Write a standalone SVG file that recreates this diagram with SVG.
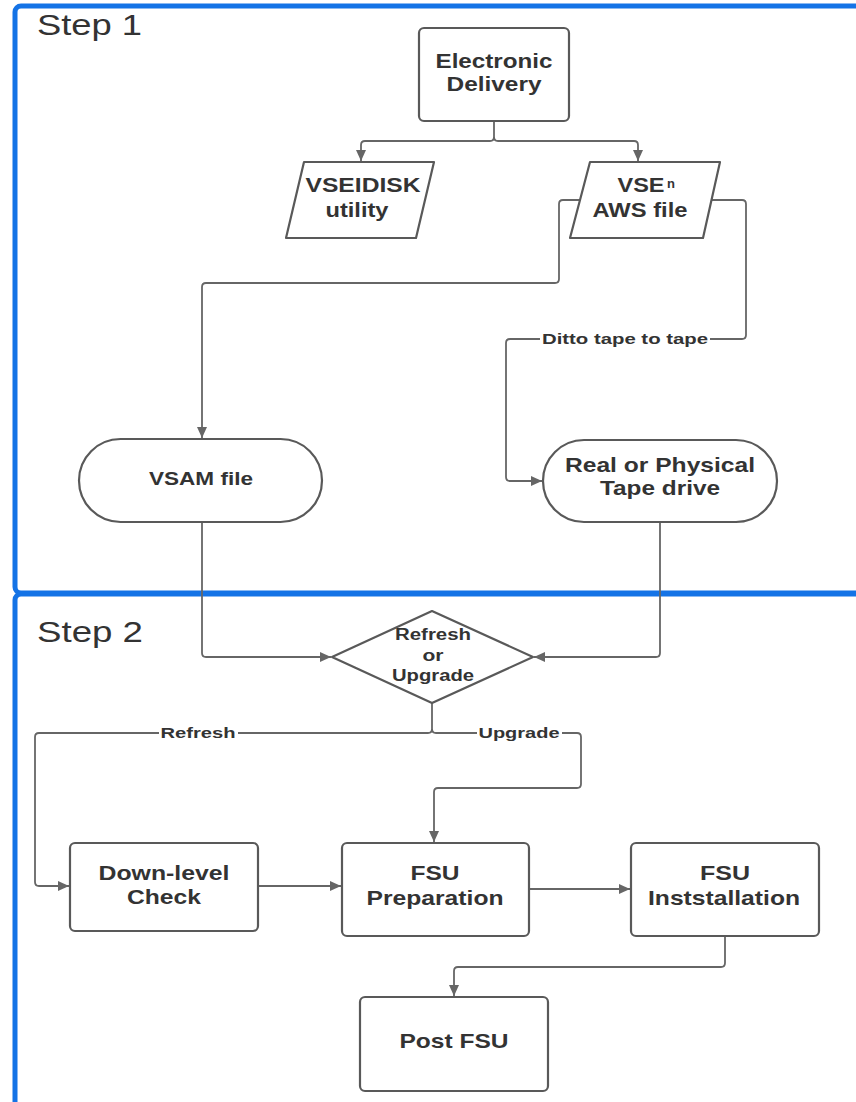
<svg xmlns="http://www.w3.org/2000/svg" width="856" height="1102" viewBox="0 0 856 1102">
<defs>
<style>
.lane{fill:none;stroke:#1473e6;stroke-width:5}
.step{font-family:"Liberation Sans",Arial,sans-serif;font-size:30px;fill:#333}
.shape{fill:#fff;stroke:#595959;stroke-width:2.2;stroke-linejoin:round}
.t{font-family:"Liberation Sans",Arial,sans-serif;font-weight:bold;font-size:21px;fill:#333;text-anchor:middle}
.ts{font-size:18px}
.td{font-size:16px}
.lbl{font-family:"Liberation Sans",Arial,sans-serif;font-weight:bold;font-size:15px;fill:#333;text-anchor:middle}
.conn{fill:none;stroke:#666;stroke-width:1.8;marker-end:url(#arr)}
.bg{fill:#fff}
</style>
<marker id="arr" markerUnits="userSpaceOnUse" markerWidth="12" markerHeight="10" refX="11" refY="5" orient="auto">
<path d="M0,0 L11,5 L0,10 z" fill="#666"/>
</marker>
</defs>
<rect width="856" height="1102" fill="#fff"/>

<g id="lanes">
<rect class="lane" x="15" y="6" width="900" height="587" rx="6"/>
<rect class="lane" x="15" y="594" width="900" height="620" rx="6"/>
<text class="step" x="37" y="35" textLength="105" lengthAdjust="spacingAndGlyphs">Step 1</text>
<text class="step" x="37" y="642" textLength="106" lengthAdjust="spacingAndGlyphs">Step 2</text>
</g>

<g id="connectors">
<path class="conn" d="M494,121 V137 Q494,141 490,141 H365 Q361,141 361,145 V161"/>
<path class="conn" d="M494,137 Q494,141 498,141 H634 Q638,141 638,145 V161"/>
<path class="conn" d="M580,200 H563 Q559,200 559,204 V279 Q559,283 555,283 H206 Q202,283 202,287 V438"/>
<path class="conn" d="M711,200 H742 Q746,200 746,204 V335 Q746,339 742,339 H510 Q506,339 506,343 V477 Q506,481 510,481 H542"/>
<path class="conn" d="M202,522 V653 Q202,657 206,657 H331"/>
<path class="conn" d="M660,522 V653 Q660,657 656,657 H534"/>
<path class="conn" d="M432,703 V729 Q432,733 428,733 H39 Q35,733 35,737 V882 Q35,886 39,886 H69"/>
<path class="conn" d="M432,729 Q432,733 436,733 H577 Q581,733 581,737 V784 Q581,788 577,788 H438 Q434,788 434,792 V842"/>
<path class="conn" d="M258,886 H341"/>
<path class="conn" d="M529,889 H630"/>
<path class="conn" d="M725,936 V963 Q725,967 721,967 H458 Q454,967 454,971 V996"/>
<rect class="bg" x="540" y="330" width="170" height="18"/>
<text class="lbl" x="625" y="344" textLength="166" lengthAdjust="spacingAndGlyphs">Ditto tape to tape</text>
<rect class="bg" x="159" y="724" width="79" height="18"/>
<text class="lbl" x="198" y="738" textLength="75" lengthAdjust="spacingAndGlyphs">Refresh</text>
<rect class="bg" x="477" y="724" width="85" height="18"/>
<text class="lbl" x="519" y="738" textLength="81" lengthAdjust="spacingAndGlyphs">Upgrade</text>
</g>

<g id="electronic-delivery">
<rect class="shape" x="419" y="28" width="150" height="93" rx="5"/>
<text class="t" x="494" y="68" textLength="117" lengthAdjust="spacingAndGlyphs">Electronic</text>
<text class="t" x="494" y="91" textLength="95" lengthAdjust="spacingAndGlyphs">Delivery</text>
</g>

<g id="vseidisk-utility">
<polygon class="shape" points="304,162 434,162 416,238 286,238"/>
<text class="t" x="363" y="192" textLength="115" lengthAdjust="spacingAndGlyphs">VSEIDISK</text>
<text class="t" x="357" y="217" textLength="63" lengthAdjust="spacingAndGlyphs">utility</text>
</g>

<g id="vse-aws-file">
<polygon class="shape" points="590,162 720,162 703,238 570,238"/>
<text class="t" x="641" y="192" textLength="47" lengthAdjust="spacingAndGlyphs">VSE</text>
<text class="t" x="671" y="188" style="font-size:13px">n</text>
<text class="t" x="640" y="217" textLength="95" lengthAdjust="spacingAndGlyphs">AWS file</text>
</g>

<g id="vsam-file">
<rect class="shape" x="79" y="439" width="243" height="83" rx="41.5"/>
<text class="t ts" x="201" y="485" textLength="104" lengthAdjust="spacingAndGlyphs">VSAM file</text>
</g>

<g id="tape-drive">
<rect class="shape" x="543" y="440" width="234" height="82" rx="41"/>
<text class="t" x="660" y="472" textLength="190" lengthAdjust="spacingAndGlyphs">Real or Physical</text>
<text class="t" x="660" y="495" textLength="120" lengthAdjust="spacingAndGlyphs">Tape drive</text>
</g>

<g id="refresh-or-upgrade">
<polygon class="shape" points="432,611 533,657 432,703 332,657"/>
<text class="t td" x="433" y="640" textLength="76" lengthAdjust="spacingAndGlyphs">Refresh</text>
<text class="t td" x="433" y="661" textLength="21" lengthAdjust="spacingAndGlyphs">or</text>
<text class="t td" x="433" y="681" textLength="82" lengthAdjust="spacingAndGlyphs">Upgrade</text>
</g>

<g id="down-level-check">
<rect class="shape" x="70" y="843" width="188" height="88" rx="5"/>
<text class="t" x="164" y="880" textLength="131" lengthAdjust="spacingAndGlyphs">Down-level</text>
<text class="t" x="164" y="904" textLength="74" lengthAdjust="spacingAndGlyphs">Check</text>
</g>

<g id="fsu-preparation">
<rect class="shape" x="342" y="843" width="187" height="93" rx="5"/>
<text class="t" x="435" y="880" textLength="49" lengthAdjust="spacingAndGlyphs">FSU</text>
<text class="t" x="435" y="905" textLength="137" lengthAdjust="spacingAndGlyphs">Preparation</text>
</g>

<g id="fsu-installation">
<rect class="shape" x="631" y="843" width="188" height="93" rx="5"/>
<text class="t" x="725" y="880" textLength="50" lengthAdjust="spacingAndGlyphs">FSU</text>
<text class="t" x="724" y="905" textLength="152" lengthAdjust="spacingAndGlyphs">Inststallation</text>
</g>

<g id="post-fsu">
<rect class="shape" x="360" y="997" width="188" height="94" rx="5"/>
<text class="t" x="454" y="1048" textLength="109" lengthAdjust="spacingAndGlyphs">Post FSU</text>
</g>
</svg>
